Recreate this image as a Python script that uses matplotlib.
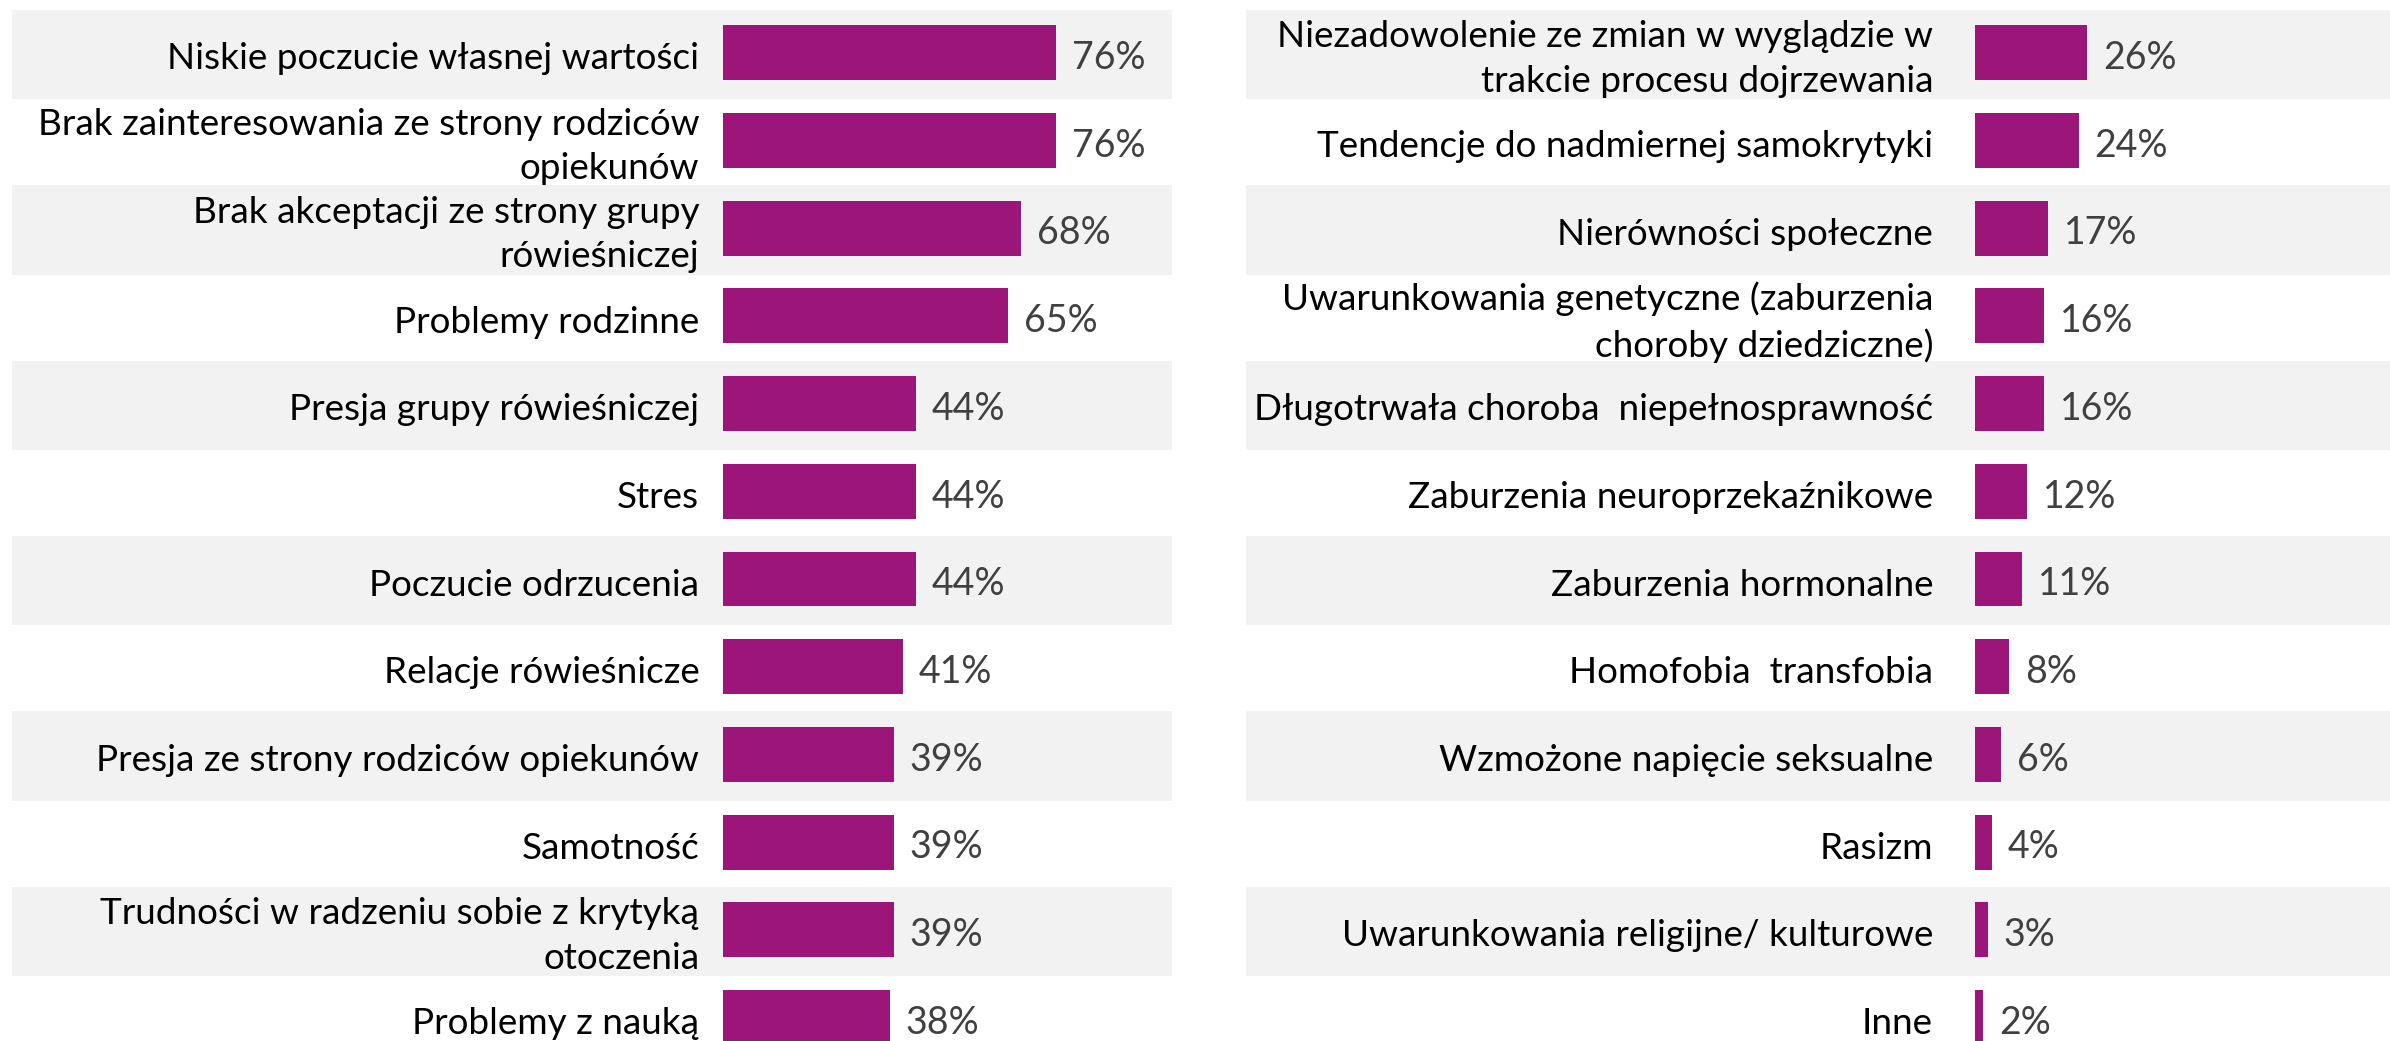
import matplotlib.pyplot as plt
from matplotlib.patches import Rectangle

plt.rcParams['font.family'] = ['Lato', 'DejaVu Sans']

left_labels = ['Niskie poczucie własnej wartości',
               'Brak zainteresowania ze strony rodziców\nopiekunów',
               'Brak akceptacji ze strony grupy\nrówieśniczej',
               'Problemy rodzinne',
               'Presja grupy rówieśniczej',
               'Stres',
               'Poczucie odrzucenia',
               'Relacje rówieśnicze',
               'Presja ze strony rodziców opiekunów',
               'Samotność',
               'Trudności w radzeniu sobie z krytyką\notoczenia',
               'Problemy z nauką']
left_values = [76, 76, 68, 65, 44, 44, 44, 41, 39, 39, 39, 38]

right_labels = ['Niezadowolenie ze zmian w wyglądzie w\ntrakcie procesu dojrzewania',
                'Tendencje do nadmiernej samokrytyki',
                'Nierówności społeczne',
                'Uwarunkowania genetyczne (zaburzenia\nchoroby dziedziczne)',
                'Długotrwała choroba  niepełnosprawność',
                'Zaburzenia neuroprzekaźnikowe',
                'Zaburzenia hormonalne',
                'Homofobia  transfobia',
                'Wzmożone napięcie seksualne',
                'Rasizm',
                'Uwarunkowania religijne/ kulturowe',
                'Inne']
right_values = [26, 24, 17, 16, 16, 12, 11, 8, 6, 4, 3, 2]

BAR = '#9c1578'
BAND = '#f2f2f2'

W, H = 2390, 1041
fig = plt.figure(figsize=(W / 100, H / 100), dpi=100)


def panel(rect, labels, values, xlim, label_gap):
    ax = fig.add_axes(rect)
    ax.set_xlim(*xlim)
    ax.set_ylim(11.268, -0.602)
    ax.axis('off')
    # alternating grey row bands
    for i in range(0, len(labels), 2):
        ax.add_patch(Rectangle((xlim[0], i - 0.49), xlim[1] - xlim[0], 1.02,
                               color=BAND, lw=0, zorder=0))
    ypos = list(range(len(values)))
    ax.barh(ypos, values, height=0.627, color=BAR, zorder=2)
    for y, lab, v in zip(ypos, labels, values):
        ax.text(-label_gap, y + 0.07, lab, ha='right', va='center',
                fontsize=26.6, color='black', linespacing=1.42, zorder=3)
        ax.annotate(f'{v}%', (v, y + 0.02), xytext=(16, 0),
                    textcoords='offset pixels', ha='left',
                    va='center_baseline', fontsize=27, color='#404040',
                    zorder=3)
    return ax


panel([12.3 / W, 0, (1171.7 - 12.3) / W, 1], left_labels, left_values,
      (-162.55, 102.5), 5.49)
panel([1246 / W, 0, (W - 1246) / W, 1], right_labels, right_values,
      (-168.3, 95.9), 9.63)

fig.savefig('out.png', dpi=100)
